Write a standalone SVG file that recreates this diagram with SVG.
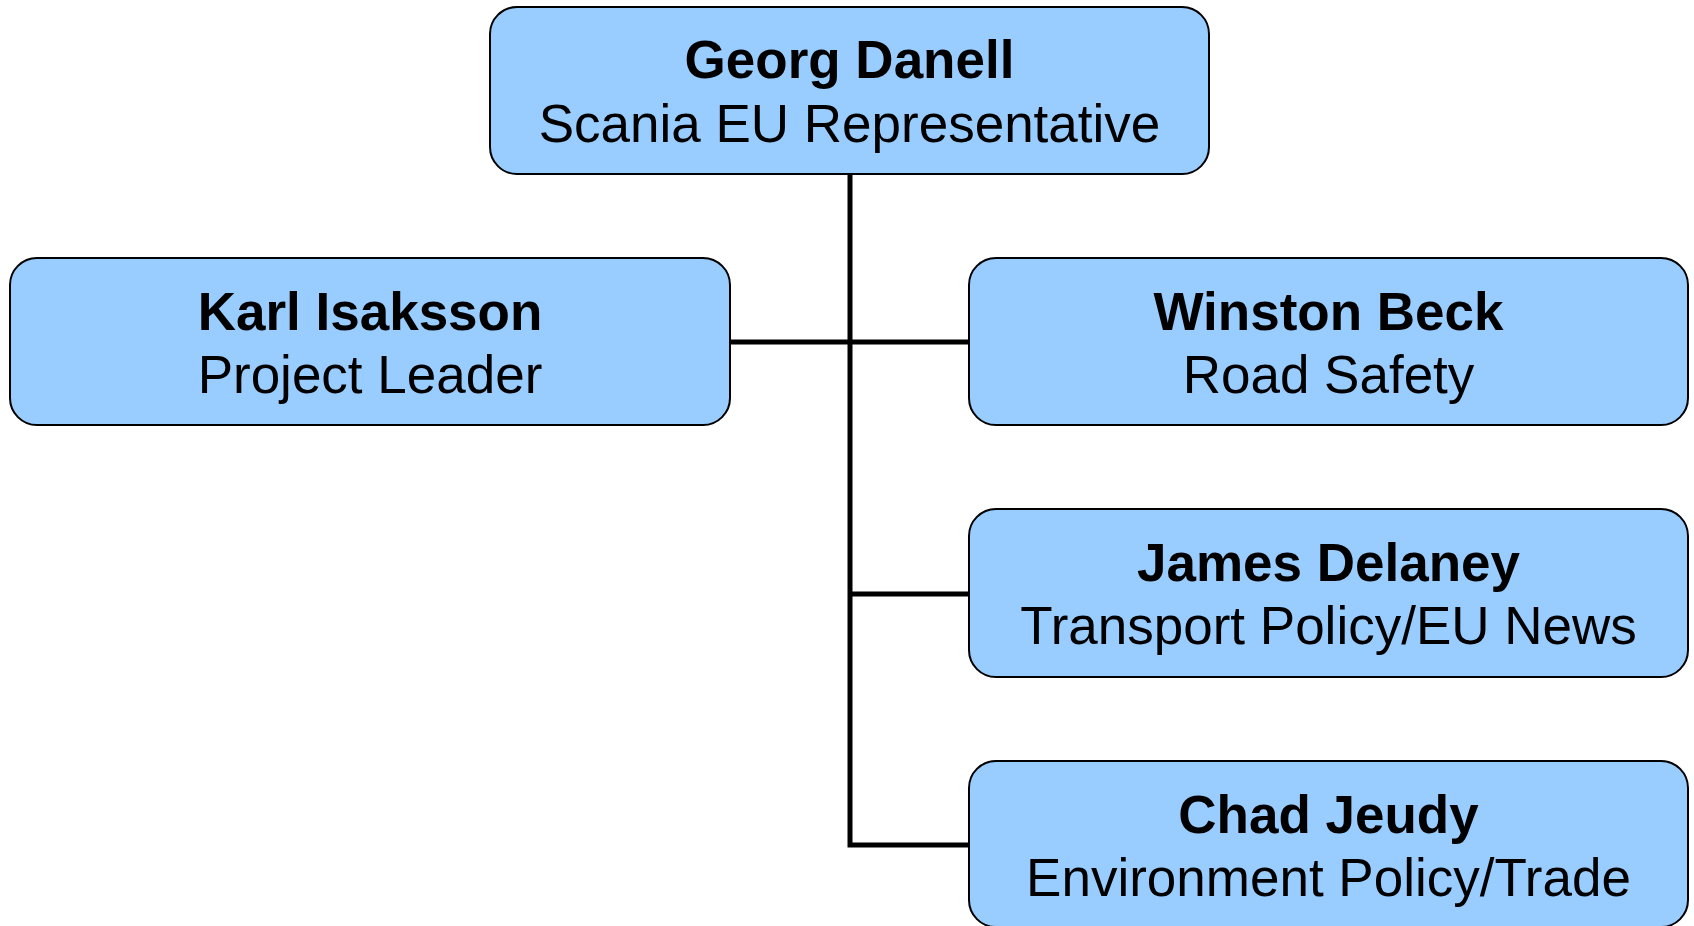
<svg xmlns="http://www.w3.org/2000/svg" width="1694" height="926" viewBox="0 0 1694 926">
<style>
.box{fill:#99CCFF;stroke:#000;stroke-width:2}
.name{font-family:"Liberation Sans",Arial,sans-serif;font-size:53px;font-weight:bold;text-anchor:middle;fill:#000}
.role{font-family:"Liberation Sans",Arial,sans-serif;font-size:53px;text-anchor:middle;fill:#000}
.conn{fill:none;stroke:#000;stroke-width:5}
</style>
<rect width="1694" height="926" fill="#fff"/>
<g id="connectors">
<path class="conn" d="M850 174 V845 H969"/>
<path class="conn" d="M730 342 H969"/>
<path class="conn" d="M850 594 H969"/>
</g>
<g id="georg">
<rect class="box" x="490" y="7" width="719" height="167" rx="27"/>
<text class="name" x="849.5" y="78">Georg Danell</text>
<text class="role" x="849.5" y="142">Scania EU Representative</text>
</g>
<g id="karl">
<rect class="box" x="10" y="258" width="720" height="167" rx="27"/>
<text class="name" x="370" y="330">Karl Isaksson</text>
<text class="role" x="370" y="393">Project Leader</text>
</g>
<g id="winston">
<rect class="box" x="969" y="258" width="719" height="167" rx="27"/>
<text class="name" x="1328.5" y="330">Winston Beck</text>
<text class="role" x="1328.5" y="393">Road Safety</text>
</g>
<g id="james">
<rect class="box" x="969" y="509" width="719" height="168" rx="27"/>
<text class="name" x="1328.5" y="581">James Delaney</text>
<text class="role" x="1328.5" y="644">Transport Policy/EU News</text>
</g>
<g id="chad">
<rect class="box" x="969" y="761" width="719" height="166" rx="27"/>
<text class="name" x="1328.5" y="833">Chad Jeudy</text>
<text class="role" x="1328.5" y="896">Environment Policy/Trade</text>
</g>
</svg>
